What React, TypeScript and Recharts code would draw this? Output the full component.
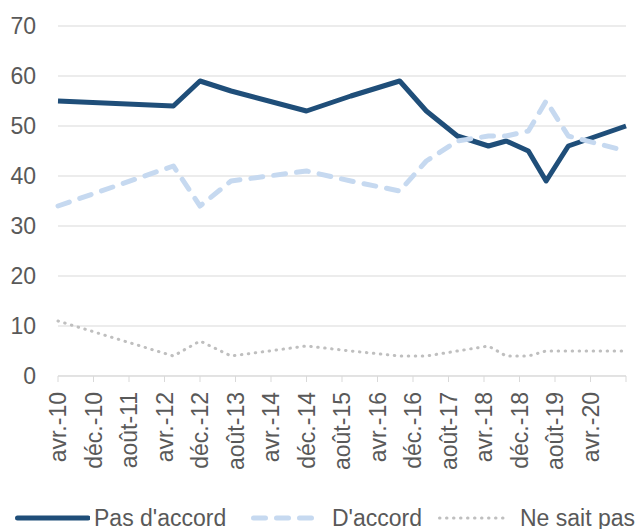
import { LineChart, Line, XAxis, YAxis, CartesianGrid } from 'recharts'

// month index counted from avr.-10
const months = [0, 26, 32, 39, 56, 66, 77, 83, 90, 97, 101, 106, 110, 115, 128]
const pasDaccord = [55, 54, 59, 57, 53, 56, 59, 53, 48, 46, 47, 45, 39, 46, 50]
const dAccord = [34, 42, 34, 39, 41, 39, 37, 43, 47, 48, 48, 49, 55, 48, 45]
const neSaitPas = [11, 4, 7, 4, 6, 5, 4, 4, 5, 6, 4, 4, 5, 5, 5]

const tickLabels = [
  'avr.-10', 'déc.-10', 'août-11', 'avr.-12', 'déc.-12', 'août-13', 'avr.-14', 'déc.-14',
  'août-15', 'avr.-16', 'déc.-16', 'août-17', 'avr.-18', 'déc.-18', 'août-19', 'avr.-20', '',
]
const yTicks = [0, 10, 20, 30, 40, 50, 60, 70]

const data = months.map((m, i) => ({
  m,
  pas: pasDaccord[i],
  dac: dAccord[i],
  nsp: neSaitPas[i],
}))

const font = '"Liberation Sans", Arial, sans-serif'
const textColor = '#595959'

const series = [
  { key: 'pas', name: "Pas d'accord", color: '#1F4E79', width: 5, dash: undefined, left: 17, len: 71 },
  { key: 'dac', name: "D'accord", color: '#C6D9F0', width: 5, dash: '12 11', left: 253, len: 67 },
  { key: 'nsp', name: 'Ne sait pas', color: '#BFBFBF', width: 3, dash: '0.5 6.5', left: 440, len: 63 },
]

function MonthTick(props: any) {
  const { x, payload } = props
  const label = tickLabels[payload.index] ?? ''
  return (
    <g transform={`translate(${x},392) rotate(-90)`}>
      <text x={0} y={0} dy="0.35em" textAnchor="end" fill={textColor} fontSize={23} fontFamily={font}>
        {label}
      </text>
    </g>
  )
}

export default function App() {
  return (
    <div style={{ position: 'absolute', left: 0, top: 0, width: 644, height: 529, background: '#fff' }}>
      <LineChart width={644} height={529} data={data} margin={{ top: 26, right: 18, bottom: 53, left: 0 }}>
        <CartesianGrid vertical={false} stroke="#D9D9D9" strokeWidth={1} />
        <XAxis
          dataKey="m"
          type="number"
          domain={[0, 128]}
          ticks={tickLabels.map((_, i) => i * 8)}
          interval={0}
          height={100}
          stroke="#D9D9D9"
          tickSize={6}
          tick={(p: any) => <MonthTick {...p} payload={{ ...p.payload, index: p.payload.value / 8 }} />}
        />
        <YAxis
          domain={[0, 70]}
          ticks={yTicks}
          width={58}
          axisLine={false}
          tickLine={false}
          tickSize={0}
          tickMargin={22}
          tick={{ fill: textColor, fontSize: 23, fontFamily: font }}
        />
        {series.map((s) => (
          <Line
            key={s.key}
            dataKey={s.key}
            name={s.name}
            type="linear"
            stroke={s.color}
            strokeWidth={s.width}
            strokeDasharray={s.dash}
            strokeLinecap={s.dash ? 'round' : 'butt'}
            strokeLinejoin="round"
            dot={false}
            isAnimationActive={false}
          />
        ))}
      </LineChart>
      {series.map((s) => (
        <div
          key={s.key}
          style={{
            position: 'absolute',
            left: s.left,
            top: 502,
            height: 32,
            display: 'flex',
            alignItems: 'center',
            whiteSpace: 'nowrap',
            fontFamily: font,
            fontSize: 23,
            color: textColor,
          }}
        >
          <svg width={s.len + 4} height={10} style={{ marginLeft: -2 }}>
            <line
              x1={2 + s.width / 2 - 2}
              x2={s.len + 2}
              y1={5}
              y2={5}
              stroke={s.color}
              strokeWidth={s.width}
              strokeDasharray={s.dash}
              strokeLinecap="round"
            />
          </svg>
          <span style={{ marginLeft: s.key === 'pas' ? 4 : s.key === 'dac' ? 10 : 15 }}>{s.name}</span>
        </div>
      ))}
    </div>
  )
}
